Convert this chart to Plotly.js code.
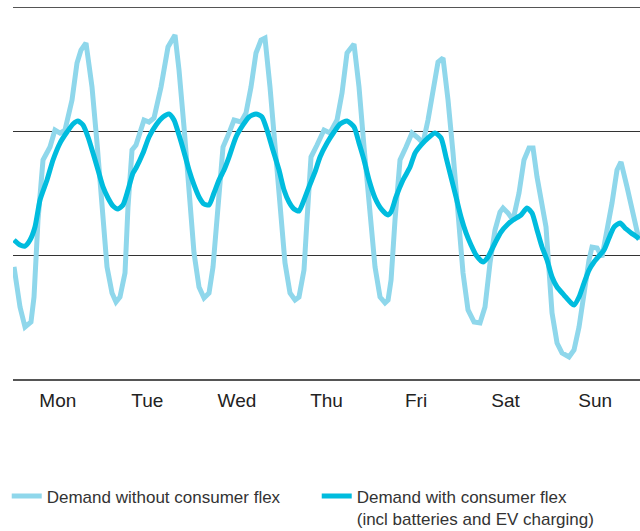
<!DOCTYPE html>
<html>
<head>
<meta charset="utf-8">
<script src="https://cdn.plot.ly/plotly-3.0.1.min.js"></script>
<style>html,body{margin:0;padding:0;background:#fff;}#chart{width:640px;height:531px;}</style>
</head>
<body>
<div id="chart"></div>
<script>
// Hours since Monday 00:00 and demand (arbitrary units, gridlines at 10 and 20)
const hoursWithout = [0.27,1.88,3.22,4.82,5.63,6.70,8.04,9.91,11.25,12.59,13.93,15.81,17.15,18.22,19.56,21.17,22.51,23.85,25.19,26.53,27.60,28.67,30.01,30.81,31.89,32.96,35.10,36.44,37.78,39.66,41.53,43.41,44.48,45.82,47.16,48.50,49.84,51.18,52.52,53.59,54.93,56.27,57.88,59.22,61.09,62.43,63.77,65.11,66.45,67.52,68.86,70.20,71.54,72.88,74.22,75.56,76.63,77.97,78.78,79.85,81.46,83.33,84.94,86.82,88.16,89.50,91.37,92.71,94.05,95.39,97.00,98.34,99.68,100.5,101.3,102.36,103.70,105.31,106.91,108.52,109.86,111.20,112.54,113.88,115.22,116.56,117.90,119.24,120.58,121.92,123.53,125.13,126.47,127.81,129.15,130.49,131.30,132.64,133.98,135.58,136.92,138.26,139.34,140.41,141.75,142.82,143.62,144.43,145.77,147.11,148.98,150.32,151.66,153.00,154.34,155.14,156.48,157.82,159.16,160.50,161.84,162.91,164.52,165.86,167.20,167.74];
const demandWithout = [9.06,5.82,4.20,4.61,6.63,12.86,17.71,18.76,20.13,19.89,20.13,22.56,25.55,26.60,27.17,23.61,19.08,13.91,9.06,6.95,6.23,6.63,8.57,13.91,18.52,18.92,20.94,20.78,21.10,23.61,26.85,27.82,24.99,20.38,15.04,10.19,7.44,6.55,6.95,9.06,13.91,18.76,19.89,20.94,20.78,21.51,23.61,26.36,27.41,27.57,23.61,18.76,13.91,9.38,6.95,6.39,6.63,8.81,12.86,17.95,18.92,20.13,19.89,20.94,23.13,26.36,27.09,23.61,18.76,13.91,9.06,6.63,6.15,6.39,8.01,12.86,17.71,18.76,19.89,19.49,19.08,20.94,23.61,25.63,25.96,22.56,18.27,13.42,8.57,5.58,4.61,4.53,5.82,9.38,12.05,13.50,13.83,13.42,12.86,15.04,17.71,18.68,18.68,16.33,13.91,12.29,8.81,5.34,2.91,2.10,1.78,2.34,4.20,7.20,9.62,10.67,10.59,9.87,11.81,14.23,16.90,17.55,15.53,13.67,11.81,11.24];

const hoursWith = [0.27,1.88,3.22,4.56,5.89,7.23,9.11,10.72,12.59,14.47,16.08,17.42,18.76,20.10,21.44,22.78,24.12,25.46,26.80,28.14,29.47,30.81,32.15,32.96,34.83,36.44,38.32,40.19,41.80,43.14,44.48,45.82,47.16,48.50,49.84,51.18,52.52,53.86,55.20,56.54,57.88,59.75,61.63,63.24,65.11,66.72,68.06,69.40,71.28,72.62,73.95,75.29,76.63,77.97,79.31,80.92,82.26,84.14,86.01,87.62,89.50,91.37,92.71,94.05,95.39,97.00,98.87,100.48,101.29,102.63,104.50,106.38,107.72,109.32,111.20,113.08,114.68,116.02,117.36,118.70,120.04,121.38,122.72,124.06,125.94,127.28,129.15,130.76,132.64,133.98,136.12,137.73,139.07,140.41,141.75,143.09,144.43,145.77,147.64,149.52,150.32,151.66,153.00,154.34,155.68,157.02,158.36,159.70,161.04,162.65,164.26,165.61,167.20,167.74];
const demandWith = [11.24,10.84,10.75,11.24,12.29,14.47,16.09,17.71,19.08,19.97,20.62,20.86,20.54,19.57,18.27,16.90,15.53,14.64,13.99,13.75,14.07,15.28,16.66,17.06,18.27,19.57,20.54,21.19,21.43,20.94,19.73,18.36,16.90,15.69,14.72,14.15,14.07,15.04,16.09,16.90,17.95,19.57,20.54,21.19,21.43,21.19,20.13,18.76,16.90,15.28,14.31,13.75,13.58,14.47,15.53,16.74,17.95,19.08,19.97,20.62,20.86,20.38,19.08,17.71,16.09,14.64,13.67,13.26,13.50,14.72,16.09,17.14,18.27,18.92,19.49,19.89,19.49,17.95,16.33,14.72,13.10,11.81,10.84,10.03,9.46,9.87,11.00,11.89,12.53,12.86,13.26,13.83,13.42,12.05,10.67,9.62,8.25,7.44,6.79,6.15,5.98,6.63,7.76,8.81,9.46,9.95,10.43,11.40,12.29,12.61,12.13,11.81,11.48,11.32];

const dayTickHours = [12,36,60,84,108,132,156];
const dayLabels = ["Mon","Tue","Wed","Thu","Fri","Sat","Sun"];
const seriesNames = ["Demand without consumer flex","Demand with consumer flex<br>(incl batteries and EV charging)"];

const font = "Liberation Sans, Arial, sans-serif";

const traces = [
  {x: hoursWithout, y: demandWithout, type: "scatter", mode: "lines", name: seriesNames[0],
   line: {color: "#8fd7eb", width: 5}},
  {x: hoursWith, y: demandWith, type: "scatter", mode: "lines", name: seriesNames[1],
   line: {color: "#00bcde", width: 5, shape: "spline", smoothing: 0.6}}
];

const layout = {
  width: 640, height: 531,
  margin: {l: 13, r: 0, t: 8, b: 152, autoexpand: false},
  paper_bgcolor: "#fff", plot_bgcolor: "#fff",
  font: {family: font, color: "#222"},
  xaxis: {range: [0, 168], tickvals: dayTickHours, ticktext: dayLabels,
          showgrid: false, zeroline: false, showline: true, mirror: true,
          linecolor: "#555", linewidth: 1.5, ticks: "", ticklabelstandoff: 4,
          tickfont: {size: 19, color: "#222", family: font}},
  yaxis: {range: [0, 30], dtick: 10, tick0: 0, showticklabels: false,
          showgrid: true, gridcolor: "#333", gridwidth: 1.2, zeroline: false, showline: false, ticks: ""},
  showlegend: true,
  legend: {orientation: "h", x: -0.01, xanchor: "left", y: -0.268, yanchor: "top",
           font: {size: 17, color: "#333", family: font}, valign: "top",
           entrywidth: 265, entrywidthmode: "pixels", itemwidth: 30,
           bgcolor: "rgba(0,0,0,0)"}
};

Plotly.newPlot("chart", traces, layout, {staticPlot: true, displayModeBar: false});
</script>
</body>
</html>
